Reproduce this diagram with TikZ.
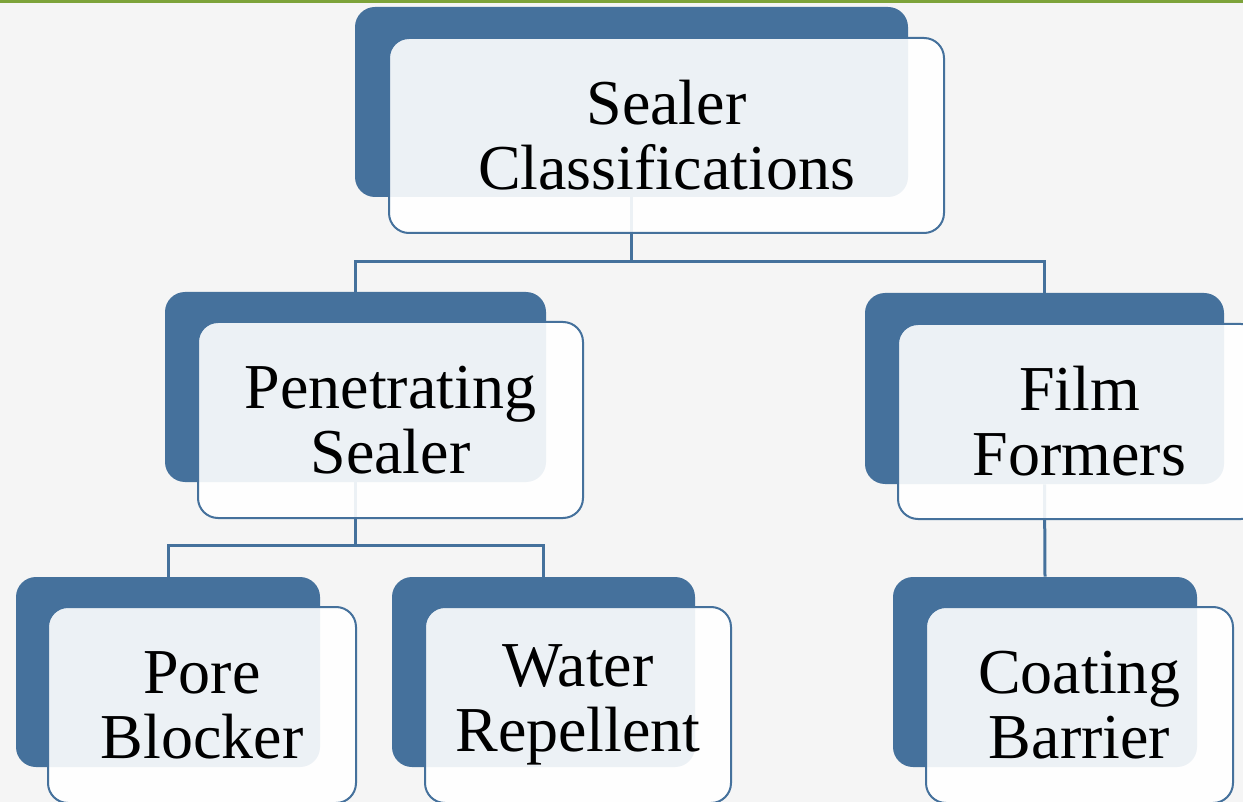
\documentclass[tikz,border=0pt]{standalone}
\usepackage{fontspec}
\setmainfont{Liberation Serif}
\pgfdeclarelayer{bg}
\pgfdeclarelayer{conn}
\pgfsetlayers{bg,conn,main}
\definecolor{sblue}{RGB}{69,113,156}
\definecolor{pagebg}{RGB}{245,245,245}
\definecolor{topgreen}{RGB}{125,163,58}
\tikzset{
  backbox/.style={rectangle, rounded corners=10pt, fill=sblue, inner sep=0pt,
    minimum width=#1},
  backbox/.default=152pt,
  frontbox/.style={rectangle, rounded corners=10pt, draw=sblue, line width=1pt,
    fill=white, fill opacity=0.9, text opacity=1, inner sep=0pt, align=center,
    font=\fontsize{32}{32.5}\selectfont},
  conn/.style={draw=sblue, line width=1.5pt}
}
\begin{document}
\begin{tikzpicture}[x=0.5pt,y=-0.5pt]
\useasboundingbox (0,0) rectangle (1243,802);
\begin{pgfonlayer}{bg}
  \fill[pagebg] (0,0) rectangle (1243,802);
  \fill[topgreen] (0,0) rectangle (1243,3);
\end{pgfonlayer}
% back boxes
\node[backbox=276.5pt, minimum height=95pt] (topb) at (631.5,102) {};
\node[backbox=190.5pt, minimum height=95pt] (penb) at (355.5,387) {};
\node[backbox=179.5pt, minimum height=95.5pt] (filmb) at (1044.5,388.5) {};
\node[backbox=152pt, minimum height=95pt] (poreb) at (168,672) {};
\node[backbox=151.5pt, minimum height=95pt] (waterb) at (543.5,672) {};
\node[backbox=152pt, minimum height=95pt] (coatb) at (1045,672) {};
% front boxes
\node[frontbox, minimum width=277.5pt, minimum height=97.5pt] (top) at (666.5,135.5) {Sealer\\Classifications};
\node[frontbox, minimum width=192.5pt, minimum height=98pt] (pen) at (390.5,420) {Penetrating\\Sealer};
\node[frontbox, minimum width=181.5pt, minimum height=97.5pt] (film) at (1079.5,421.5) {Film\\Formers};
\node[frontbox, minimum width=154pt, minimum height=98pt] (pore) at (202,705) {Pore\\Blocker};
\node[frontbox, minimum width=153pt, minimum height=98pt] (water) at (578,705) {Water\\Repellent};
\node[frontbox, minimum width=153.5pt, minimum height=98pt] (coat) at (1079.5,705) {Coating\\Barrier};
% connectors
\coordinate (bus1) at (0,262);
\coordinate (bus2) at (0,545);
\begin{pgfonlayer}{conn}
  \draw[conn] (topb.south) -- (topb.south |- bus1) -| (penb.north);
  \draw[conn] (topb.south |- bus1) -| (filmb.north);
  \draw[conn] (penb.south) -- (penb.south |- bus2) -| (poreb.north);
  \draw[conn] (penb.south |- bus2) -| (waterb.north);
  \draw[conn] (filmb.south) -- (coatb.north);
\end{pgfonlayer}
\end{tikzpicture}
\end{document}
